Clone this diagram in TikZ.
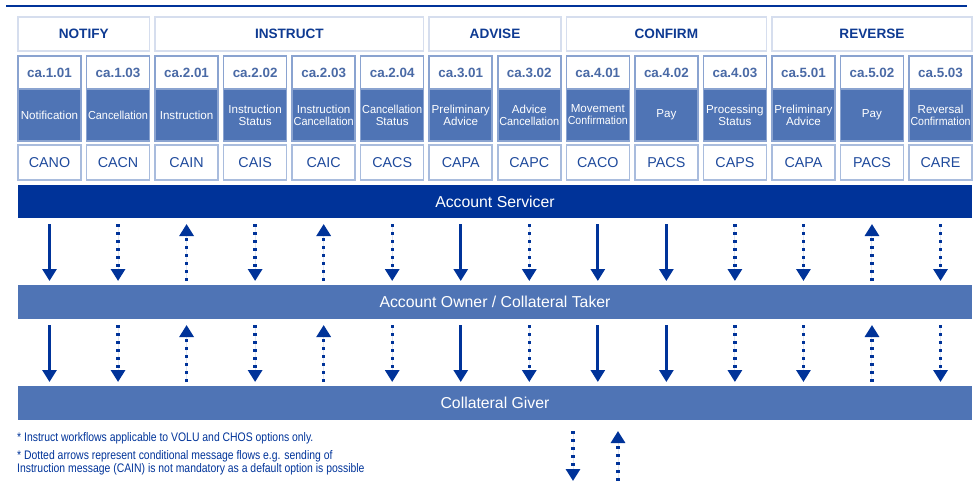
\documentclass[tikz,border=0pt]{standalone}
\usepackage{fontspec}
\setmainfont{Liberation Sans}
\usepackage{graphicx}
\usetikzlibrary{arrows.meta}
\definecolor{dkblue}{HTML}{003399}
\definecolor{midblue}{HTML}{4F74B5}
\definecolor{hdrborder}{HTML}{D6DEEE}
\definecolor{colborder}{HTML}{8AA3D0}
\definecolor{codeborder}{HTML}{A9BCDD}
\definecolor{catext}{HTML}{4A6AA6}
\definecolor{codetext}{HTML}{1F4A9C}
\definecolor{hdrtext}{HTML}{0E3A92}
\newsavebox\fitbox
\newcommand\fitw[1]{\sbox\fitbox{#1}\ifdim\wd\fitbox>60pt\resizebox{60pt}{\height}{\usebox\fitbox}\else\usebox\fitbox\fi}
\newcommand\descr[2]{\edef\tmpb{#2}\ifx\tmpb\empty\fitw{#1}\else\fitw{#1}\\\fitw{#2}\fi}
\newcommand\narrow[1]{\scalebox{0.84}[1]{#1}}
\tikzset{
  box/.style={inner sep=0pt, outer sep=0pt, anchor=north west},
  hdr/.style={box, draw=hdrborder, line width=1.5pt, fill=white, text=hdrtext, font=\fontsize{13.6}{15}\selectfont\bfseries},
  colbox/.style={box, draw=colborder, line width=1.5pt, fill=midblue},
  catop/.style={box, draw=colborder, line width=1.5pt, fill=white, text=catext, font=\fontsize{13.4}{15}\selectfont\bfseries},
  desc/.style={inner sep=0pt, text=white, align=center, font=\fontsize{11.6}{12}\selectfont},
  codebox/.style={box, draw=codeborder, line width=1.5pt, fill=white, text=codetext, font=\fontsize{14.3}{16}\selectfont},
  darkbar/.style={box, fill=dkblue, text=white, minimum width=954pt, font=\fontsize{15.8}{17}\selectfont},
  midbar/.style={box, fill=midblue, text=white, minimum width=954pt, font=\fontsize{15.8}{17}\selectfont},
  solidarr/.style={draw=dkblue, line width=2.8pt, -{Triangle[width=14pt,length=12pt]}, fill=dkblue},
  dotarr/.style={draw=dkblue, line width=3.3pt, dash pattern=on 3.3pt off 4.7pt, -{Triangle[width=14pt,length=12pt]}, fill=dkblue},
  foot/.style={inner sep=0pt, text=dkblue, anchor=base west, font=\fontsize{12.4}{13}\selectfont}
}
\begin{document}
\begin{tikzpicture}[x=1pt,y=-1pt]
\useasboundingbox (0,0) rectangle (977,485);
\coordinate (tl) at (6,6);
\coordinate (tr) at (967,6);
\draw[dkblue, line width=2.2pt] (tl) -- (tr);
% group headers
\foreach \nm/\a/\b/\lbl in {n/1/2/NOTIFY, i/3/6/INSTRUCT, a/7/8/ADVISE, c/9/11/CONFIRM, r/12/14/REVERSE} {
  \pgfmathsetmacro\xa{18+68.54*(\a-1)}
  \pgfmathsetmacro\xb{18+68.54*(\b-1)+63}
  \node[hdr, minimum width={\xb-\xa}, minimum height=34] (h\nm) at (\xa,17) {\lbl};
}
% bars
\node[darkbar, minimum height=33] (serv) at (18,185) {Account Servicer};
\node[midbar, minimum height=34] (owner) at (18,285) {Account Owner / Collateral Taker};
\node[midbar, minimum height=34] (giver) at (18,386) {Collateral Giver};
% columns
\foreach \i/\ca/\la/\lb/\code/\ar in {
  1/ca.1.01/Notification//CANO/0,
  2/ca.1.03/Cancellation//CACN/1,
  3/ca.2.01/Instruction//CAIN/2,
  4/ca.2.02/Instruction/Status/CAIS/1,
  5/ca.2.03/Instruction/Cancellation/CAIC/2,
  6/ca.2.04/Cancellation/Status/CACS/1,
  7/ca.3.01/Preliminary/Advice/CAPA/0,
  8/ca.3.02/Advice/Cancellation/CAPC/1,
  9/ca.4.01/Movement/Confirmation/CACO/0,
  10/ca.4.02/Pay//PACS/0,
  11/ca.4.03/Processing/Status/CAPS/1,
  12/ca.5.01/Preliminary/Advice/CAPA/1,
  13/ca.5.02/Pay//PACS/2,
  14/ca.5.03/Reversal/Confirmation/CARE/1} {
  \pgfmathsetmacro\xl{18+68.54*(\i-1)}
  \pgfmathsetmacro\xc{\xl+31.5}
  \node[colbox, minimum width=63pt, minimum height=85pt] (col\i) at (\xl,56) {};
  \node[catop, minimum width=63pt, minimum height=33pt] (ca\i) at (\xl,56) {\ca};
  \node[desc] (d\i) at (\xc,115) {\descr{\la}{\lb}};
  \node[codebox, minimum width=63pt, minimum height=35pt] (code\i) at (\xl,145) {\code};
  \coordinate (a\i) at (\xc,224);
  \coordinate (b\i) at (\xc,281);
  \coordinate (c\i) at (\xc,325);
  \coordinate (e\i) at (\xc,382);
  \ifcase\ar
    \draw[solidarr] (a\i) -- (b\i); \draw[solidarr] (c\i) -- (e\i);
  \or
    \draw[dotarr] (a\i) -- (b\i); \draw[dotarr] (c\i) -- (e\i);
  \or
    \draw[dotarr] (b\i) -- (a\i); \draw[dotarr] (e\i) -- (c\i);
  \fi
}
% footnotes
\node[foot] (f1) at (17,441) {\narrow{* Instruct workflows applicable to VOLU and CHOS options only.}};
\node[foot] (f2) at (17,459) {\narrow{* Dotted arrows represent conditional message flows e.g. sending of}};
\node[foot] (f3) at (17,472) {\narrow{Instruction message (CAIN) is not mandatory as a default option is possible}};
% legend arrows
\coordinate (l1t) at (573,431);
\coordinate (l1b) at (573,481);
\coordinate (l2t) at (618,431);
\coordinate (l2b) at (618,481);
\draw[dotarr] (l1t) -- (l1b);
\draw[dotarr] (l2b) -- (l2t);
\end{tikzpicture}
\end{document}
